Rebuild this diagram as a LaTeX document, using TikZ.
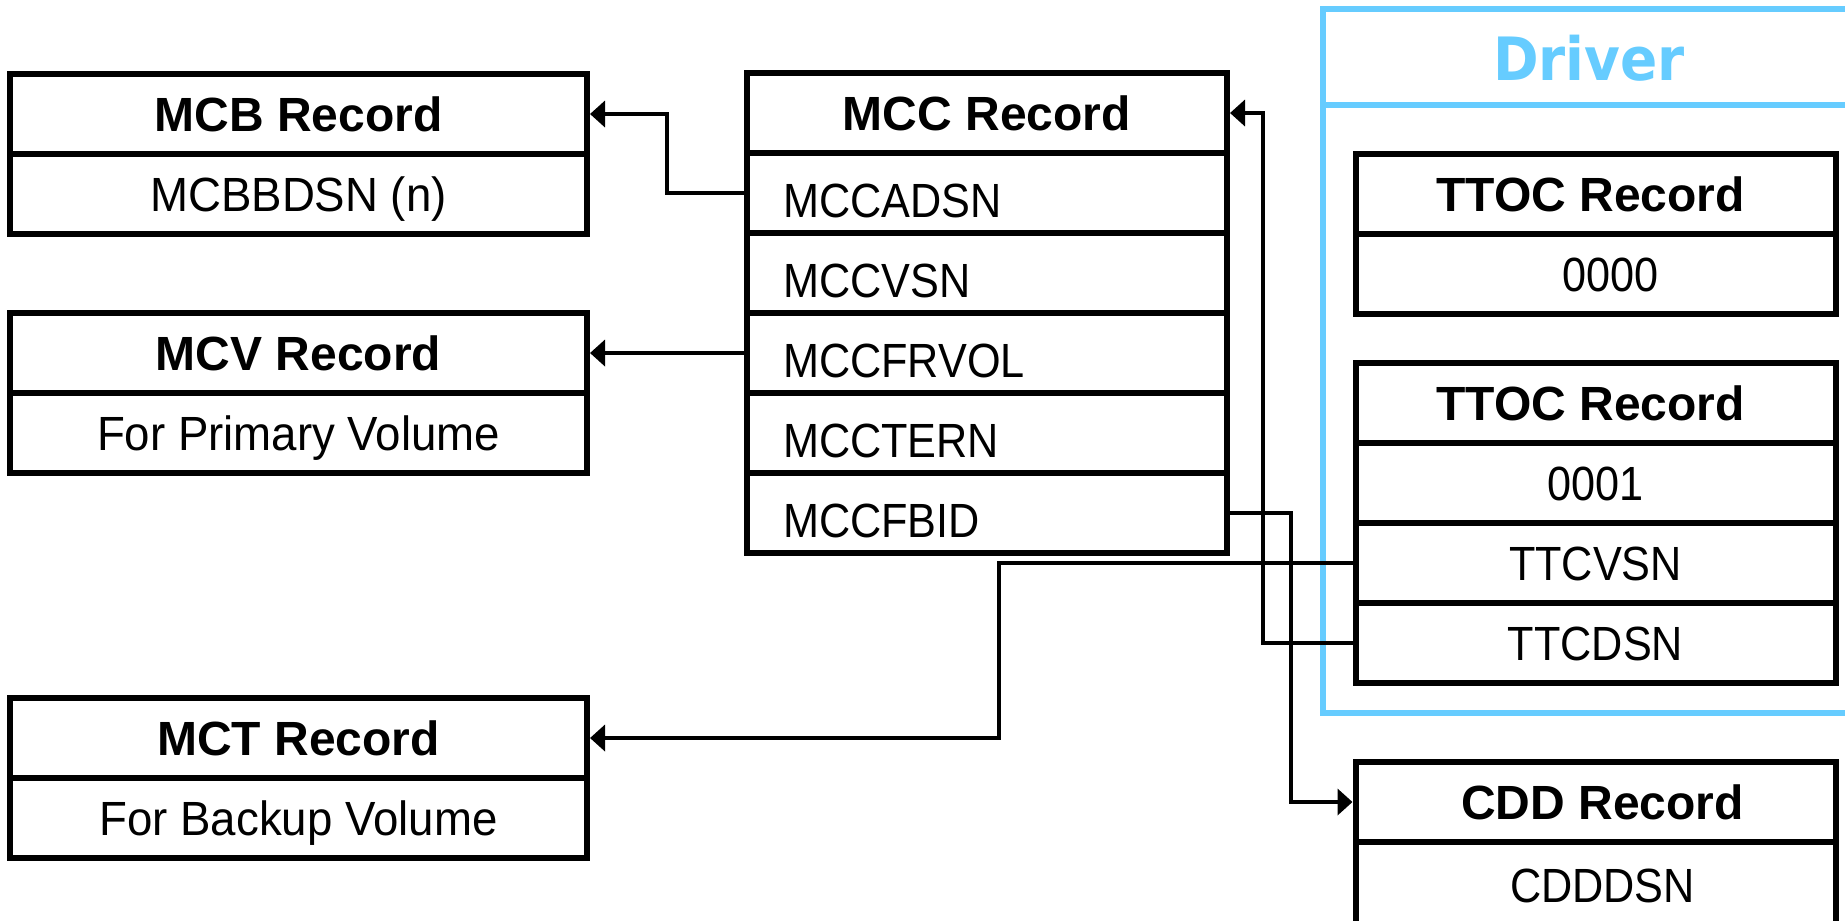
\documentclass[tikz,border=0pt]{standalone}
\usepackage{fontspec}
\setmainfont{Liberation Sans}
\newfontfamily\narrowsans[FakeStretch=0.9]{Liberation Sans}
\newfontfamily\leftsans[FakeStretch=0.95]{Liberation Sans}
\newfontfamily\drvsans[FakeStretch=0.92]{DejaVu Sans}
\usetikzlibrary{
	arrows.meta,
	positioning,
}
\definecolor{drvblue}{HTML}{66CCFF}

\begin{document}
\begin{tikzpicture}[
	>={Triangle[length=0.15cm,width=0.26cm]},
	rec/.style={draw, line width=0.06cm, outer sep=0pt, inner ysep=0pt,
		minimum height=0.8cm, text height=0.34cm, text depth=0pt},
	head/.style={rec, font=\fontsize{13.66pt}{16pt}\selectfont\bfseries},
	field/.style={rec, font=\narrowsans\fontsize{13.66pt}{16pt}\selectfont},
	lfield/.style={rec, font=\leftsans\fontsize{13.66pt}{16pt}\selectfont},
	lbox/.style={minimum width=5.77cm},
	rbox/.style={minimum width=4.8cm},
	mccfield/.style={field, rbox, text width=4.08cm, align=left,
		inner xsep=0.36cm, text height=0.48cm},
	drvline/.style={draw=drvblue, line width=0.065cm},
	link/.style={->, line width=0.04cm, shorten >=0.03cm}
	]
	\useasboundingbox (0,0) rectangle (18.45,-9.2);

	%% driver frame
	\draw[drvline] (13.23,-0.09) rectangle (18.8,-7.13);
	\draw[drvline] (13.23,-1.05) -- (18.8,-1.05);
	\node[font=\drvsans\fontsize{17pt}{20pt}\selectfont\bfseries, text=drvblue,
		text height=0.44cm, text depth=0pt] (driver) at (15.89,-0.58) {Driver};

	%% left column
	\node[head,lbox] (mcb) at (2.985,-1.14) {MCB Record};
	\node[lfield,lbox,below=0pt of mcb] (mcbbdsn) {MCBBDSN (n)};
	\node[head,lbox] (mcv) at (2.985,-3.53) {MCV Record};
	\node[lfield,lbox,below=0pt of mcv] (mcvvol) {For Primary Volume};
	\node[head,lbox] (mct) at (2.985,-7.38) {MCT Record};
	\node[lfield,lbox,below=0pt of mct] (mctvol) {For Backup Volume};

	%% middle column
	\node[head,rbox] (mcc) at (9.87,-1.13) {MCC Record};
	\node[mccfield,below=0pt of mcc] (mccadsn) {MCCADSN};
	\node[mccfield,below=0pt of mccadsn] (mccvsn) {MCCVSN};
	\node[mccfield,below=0pt of mccvsn] (mccfrvol) {MCCFRVOL};
	\node[mccfield,below=0pt of mccfrvol] (mcctern) {MCCTERN};
	\node[mccfield,below=0pt of mcctern] (mccfbid) {MCCFBID};

	%% right column
	\node[head,rbox] (ttoca) at (15.955,-1.94) {\hspace*{-0.1cm}TTOC Record};
	\node[field,rbox,below=0pt of ttoca] (ttocnum) {\hspace*{0.3cm}0000};
	\node[head,rbox] (ttocb) at (15.955,-4.03) {\hspace*{-0.1cm}TTOC Record};
	\node[field,rbox,below=0pt of ttocb] (ttocbnum) {0001};
	\node[field,rbox,below=0pt of ttocbnum] (ttcvsn) {TTCVSN};
	\node[field,rbox,below=0pt of ttcvsn] (ttcdsn) {TTCDSN};
	\node[head,rbox] (cdd) at (15.955,-8.02) {\hspace*{0.14cm}CDD Record};
	\node[field,rbox,below=0pt of cdd,minimum height=0.86cm] (cdddsn) {\hspace*{0.14cm}CDDDSN};

	%% links
	\draw[link] (mccadsn.west) -- ++(-0.8,0) |- (mcb.east);
	\draw[link] (mccfrvol.west) -- (mccfrvol.west -| mcv.east);
	\draw[link] (ttcvsn.west) -- ++(-3.565,0) |- (mct.east);
	\draw[link] (ttcdsn.west) -- ++(-0.93,0) |- (mcc.east);
	\draw[link] (mccfbid.east) -- ++(0.64,0) |- (cdd.west);

\end{tikzpicture}
\end{document}
